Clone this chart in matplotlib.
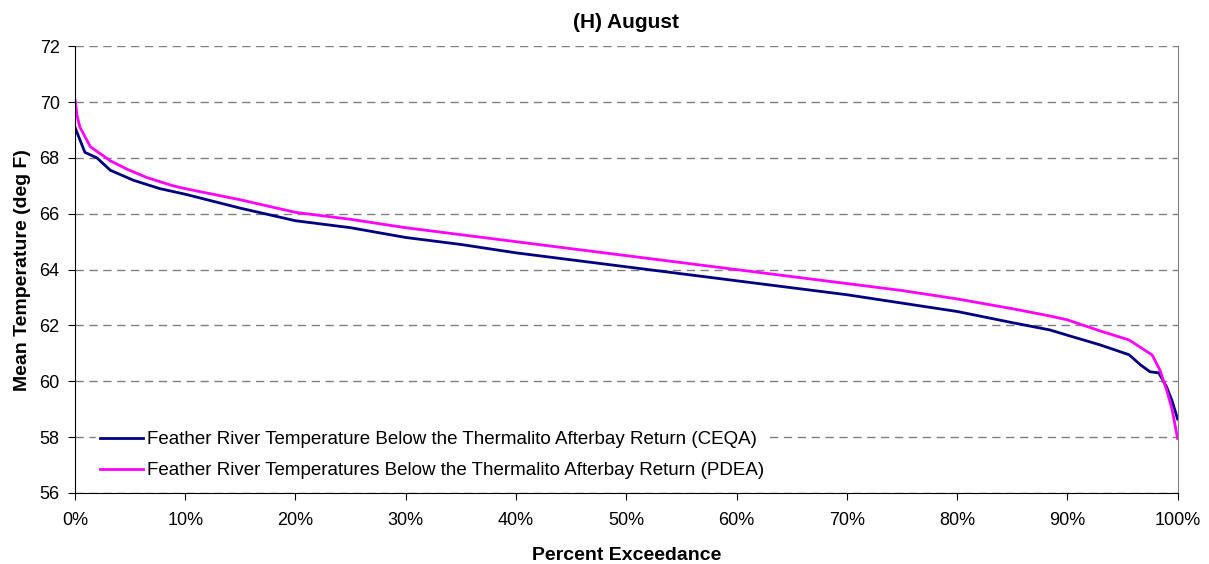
import matplotlib as mpl
mpl.use('Agg')

import matplotlib.pyplot as plt
from matplotlib.ticker import FuncFormatter

# percent exceedance (x) and mean temperature (deg F)
ceqa_pct = [0, 0.5, 0.9, 2, 3.2, 5.3, 7.7, 10, 15, 20, 25, 30, 35, 40, 45,
            50, 55, 60, 65, 70, 75, 80, 85, 88.4, 90, 93, 95.6, 96.6, 97.5,
            98.3, 99, 99.5, 100]
ceqa_temp = [69.1, 68.6, 68.2, 68.0, 67.56, 67.2, 66.9, 66.7, 66.2, 65.75,
             65.5, 65.15, 64.9, 64.6, 64.35, 64.1, 63.85, 63.6, 63.35, 63.1,
             62.8, 62.5, 62.1, 61.84, 61.65, 61.3, 60.95, 60.6, 60.34, 60.3,
             59.8, 59.3, 58.65]

pdea_pct = [0, 0.2, 0.45, 1.4, 3.2, 4.7, 6.5, 8.9, 10, 15, 20, 25, 30, 35,
            40, 45, 50, 55, 60, 65, 70, 75, 80, 85, 88.4, 90, 93, 95.6, 97.7,
            98.4, 99, 99.5, 100]
pdea_temp = [70.1, 69.5, 69.1, 68.4, 67.9, 67.6, 67.3, 67.0, 66.9, 66.5,
             66.05, 65.8, 65.5, 65.25, 65.0, 64.75, 64.5, 64.25, 64.0, 63.75,
             63.5, 63.25, 62.95, 62.6, 62.34, 62.2, 61.8, 61.48, 60.94, 60.4,
             59.7, 59.0, 57.95]

labels = ["Feather River Temperature Below the Thermalito Afterbay Return (CEQA)",
          "Feather River Temperatures Below the Thermalito Afterbay Return (PDEA)"]

plt.rcParams['font.family'] = ['Liberation Sans', 'DejaVu Sans']

fig = plt.figure(figsize=(12.09, 5.64), dpi=100)
ax = fig.add_axes([0.062, 0.126, 0.912, 0.792])

ax.plot([p / 100 for p in ceqa_pct], ceqa_temp, color='#000080', lw=2, label=labels[0])
ax.plot([p / 100 for p in pdea_pct], pdea_temp, color='#FF00FF', lw=2, label=labels[1])

ax.set_xlim(0, 1)
ax.set_ylim(56, 72)
ax.set_xticks([i / 10 for i in range(11)])
ax.xaxis.set_major_formatter(FuncFormatter(lambda v, pos: "%d%%" % round(v * 100)))
ax.set_yticks(range(56, 73, 2))
ax.tick_params(labelsize=13, length=5, direction='out', color='black')
ax.tick_params(axis='x', pad=9)
ax.tick_params(axis='y', pad=6)

ax.grid(True, axis='y', linestyle=(0, (6, 4)), color='#808080', lw=1)
ax.set_axisbelow(True)
ax.spines['top'].set_visible(False)
ax.spines['right'].set_color('#808080')

## Les Label
ax.set_title("(H) August", fontsize=15, fontweight='bold', pad=13)
ax.set_xlabel("Percent Exceedance", fontsize=14, fontweight='bold', labelpad=13)
ax.set_ylabel("Mean Temperature (deg F)", fontsize=14, fontweight='bold', labelpad=6)

leg = ax.legend(loc='lower left', bbox_to_anchor=(0.019, 0.022), frameon=True,
                fontsize=13.5, handlelength=2.3, handletextpad=0.2,
                labelspacing=0.75, borderpad=0.2, borderaxespad=0)
leg.get_frame().set_edgecolor('white')
leg.get_frame().set_facecolor('white')
leg.get_frame().set_alpha(1)
leg.get_frame().set_boxstyle('square', pad=0)

fig.savefig("out.png", format="png")
